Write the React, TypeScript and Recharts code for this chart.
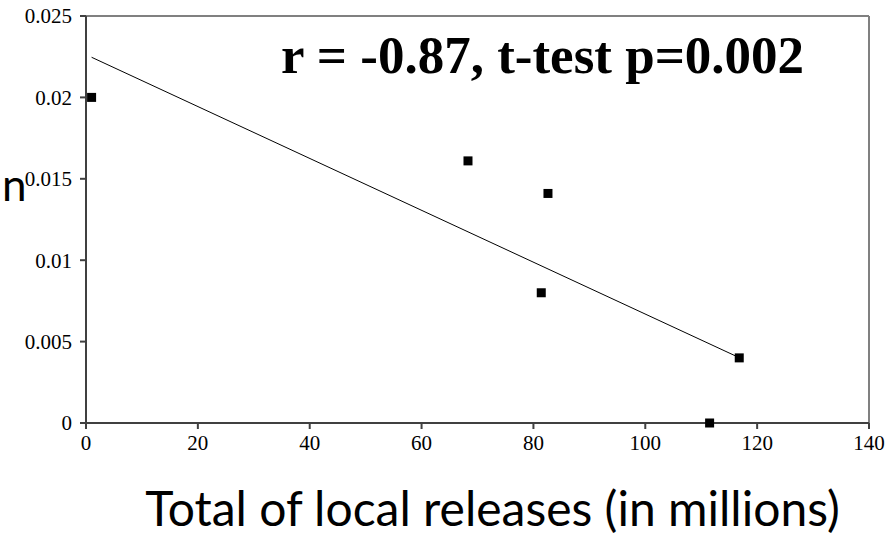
import { ScatterChart, Scatter, XAxis, YAxis, ReferenceLine } from 'recharts';

const releases = [1, 68.3, 82.6, 81.4, 116.8, 111.5];
const nValues = [0.02, 0.0161, 0.0141, 0.008, 0.004, 0];
const xTicks = [0, 20, 40, 60, 80, 100, 120, 140];
const yTicks = [0, 0.005, 0.01, 0.015, 0.02, 0.025];

const points = releases.map((x, i) => ({ x, y: nValues[i] }));

const tickStyle = { fontFamily: '"Liberation Serif", serif', fontSize: 21, fill: '#000' };

const Square = (props: any) => {
  const { cx, cy } = props;
  return <rect x={cx - 4.5} y={cy - 4.5} width={9} height={9} fill='#000' />;
};

export default function App() {
  return (
    <div style={{ position: 'absolute', left: 0, top: 0, width: 891, height: 536, background: '#fff', overflow: 'hidden' }}>
      <ScatterChart width={891} height={536} margin={{ top: 16, right: 22, bottom: 0, left: 0 }}>
        <XAxis
          type='number'
          dataKey='x'
          domain={[0, 140]}
          ticks={xTicks}
          height={113}
          stroke='#404040'
          strokeWidth={2}
          tickSize={6}
          tickMargin={6}
          tick={tickStyle}
        />
        <YAxis
          type='number'
          dataKey='y'
          domain={[0, 0.025]}
          ticks={yTicks}
          width={86}
          stroke='#404040'
          strokeWidth={2}
          tickSize={6}
          tickMargin={8}
          tick={tickStyle}
        />
        <ReferenceLine y={0.025} stroke='#808080' strokeWidth={2} />
        <ReferenceLine x={140} stroke='#808080' strokeWidth={2} />
        <Scatter
          data={points}
          shape={Square}
          line={{ stroke: '#000', strokeWidth: 1 }}
          lineType='fitting'
          isAnimationActive={false}
        />
      </ScatterChart>
      <div
        style={{
          position: 'absolute',
          left: 281,
          top: 25,
          fontFamily: '"Liberation Serif", serif',
          fontWeight: 'bold',
          fontSize: 53,
          whiteSpace: 'nowrap',
        }}
      >
        r = -0.87, t-test p=0.002
      </div>
      <div
        style={{
          position: 'absolute',
          left: 2,
          top: 158,
          fontFamily: 'Lato, sans-serif',
          fontSize: 44,
        }}
      >
        n
      </div>
      <div
        style={{
          position: 'absolute',
          left: 0,
          width: 985,
          top: 484,
          height: 48,
          lineHeight: '48px',
          textAlign: 'center',
          fontFamily: 'Lato, sans-serif',
          fontSize: 48,
          whiteSpace: 'nowrap',
        }}
      >
        Total of local releases (in millions)
      </div>
    </div>
  );
}
